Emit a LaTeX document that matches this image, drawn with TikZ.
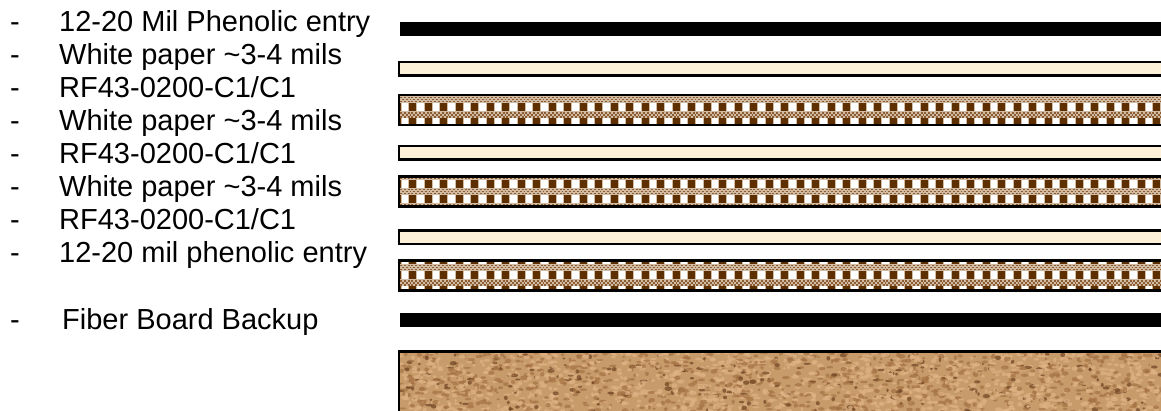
\documentclass[tikz,border=0pt]{standalone}
\usepackage{xcolor}
\usepackage{fontspec}
\setmainfont{Liberation Sans}
\definecolor{paperfill}{HTML}{FDF0D9}
\definecolor{checkdark}{HTML}{5E2F00}
\definecolor{checktan}{HTML}{D2BBA3}
\definecolor{checkdot}{HTML}{8C5C32}
\definecolor{corkbase}{HTML}{C89B6B}
\definecolor{corklight}{HTML}{E0B486}
\definecolor{corkdark}{HTML}{A57244}
\definecolor{corkdeep}{HTML}{6E4220}
\tikzset{
  barline/.style={black,line width=2.6pt},
  blackbar/.style={fill=black,draw=none},
  paperbar/.style={barline,fill=paperfill},
  lab/.style={anchor=base west,font=\fontsize{29}{33}\selectfont,inner sep=0pt,text=black},
  blockrow/.style={checkdark,line width=8.6pt,dash pattern=on 6.7pt off 8.8pt,dash phase=6.2pt},
  blockedge/.style={checktan,line width=8.6pt,dash pattern=on 8.9pt off 6.6pt,dash phase=7.3pt},
  fineband/.style={checkdot,line width=1.9pt,dash pattern=on 1.9pt off 1.9pt}
}
% one woven layer: top line, start of its first fine band
\newcommand{\wovenbar}[2]{%
  \begin{scope}
  \clip (399,#1) rectangle (1170,#1+30);
  \fill[white] (399,#1) rectangle (1170,#1+30);
  \foreach \r in {0,1,2}{
    \pgfmathsetmacro{\ss}{#2+15.2*\r}
    \fill[checktan] (400,\ss) rectangle (1170,\ss+6.6);
    \draw[fineband] (400,\ss+1.3) -- (1170,\ss+1.3);
    \draw[fineband,dash phase=1.9pt] (400,\ss+3.3) -- (1170,\ss+3.3);
    \draw[fineband] (400,\ss+5.3) -- (1170,\ss+5.3);
    \draw[blockedge] (400,\ss-4.3) -- (1170,\ss-4.3);
    \draw[blockrow] (400,\ss-4.3) -- (1170,\ss-4.3);
    \draw[blockedge] (400,\ss+10.9) -- (1170,\ss+10.9);
    \draw[blockrow] (400,\ss+10.9) -- (1170,\ss+10.9);
  }
  \end{scope}
  \draw[barline] (399,#1) rectangle (1170,#1+30);
}

\begin{document}
\begin{tikzpicture}[x=1pt,y=-1pt]
\useasboundingbox (0,0) rectangle (1161,410);
% labels
\foreach \i/\yy/\txt in {1/31/12-20 Mil Phenolic entry,2/64/White paper \textasciitilde 3-4 mils,3/97/{RF43-0200-C1/C1},4/130/White paper \textasciitilde 3-4 mils,5/163/{RF43-0200-C1/C1},6/196/White paper \textasciitilde 3-4 mils,7/229/{RF43-0200-C1/C1},8/262/12-20 mil phenolic entry}{
  \node[lab] (dash\i) at (10,\yy) {-};
  \node[lab] (lab\i) at (59,\yy) {\txt};
}
\node[lab] (dash9) at (10,329) {-}; \node[lab] (lab9) at (62,329) {Fiber Board Backup};
% layers
\fill[blackbar] (400,22) rectangle (1170,36);
\draw[paperbar] (399,62) rectangle (1170,75.5);
\wovenbar{95}{96.2}
\draw[paperbar] (399,146) rectangle (1170,159.5);
\wovenbar{176.3}{173}
\draw[paperbar] (399,230.5) rectangle (1170,244);
\wovenbar{260.6}{249}
\fill[blackbar] (400,313) rectangle (1170,327);
% cork
\begin{scope}
\clip (400,352) rectangle (1170,412);
\fill[corkbase] (400,352) rectangle (1170,412);
\pgfmathsetseed{4317}
\foreach \k in {1,...,2200}{
  \pgfmathsetmacro{\xa}{400+rnd*761} \pgfmathsetmacro{\ya}{352+rnd*60}
  \pgfmathsetmacro{\w}{1.2+rnd*2.8} \pgfmathsetmacro{\h}{.9+rnd*1.5}
  \pgfmathtruncatemacro{\tone}{int(rnd*20)}
  \ifnum\tone<10 \def\cc{corklight}\else\ifnum\tone<18 \def\cc{corkdark}\else\def\cc{corkdeep}\fi\fi
  \fill[\cc,opacity=.7] (\xa,\ya) ellipse ({\w} and {\h});
}
\end{scope}
\draw[barline] (399,351.3) -- (1170,351.3); \draw[barline] (399,350) -- (399,412);
\end{tikzpicture}
\end{document}
